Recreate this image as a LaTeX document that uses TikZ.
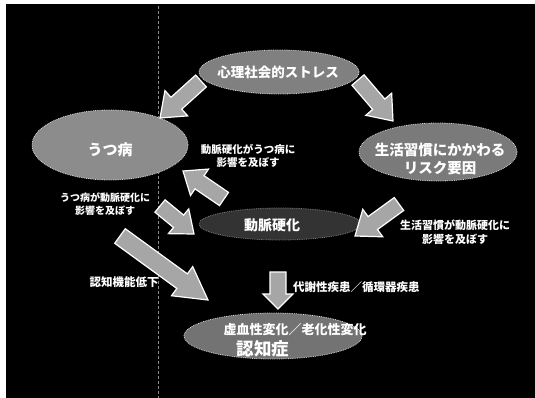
\documentclass[tikz,border=0pt]{standalone}
\usepackage{fontspec}
\setmainfont{Noto Sans CJK JP}
\usetikzlibrary{calc,shapes.geometric}
\tikzset{
  bub/.style={ellipse, fill=black!50, draw=white!85!black, densely dotted, line width=0.8pt, inner sep=0pt},
  ttl/.style={text=white, font=\bfseries\fontsize{14}{17}\selectfont, align=center, inner sep=0pt},
  lbl/.style={text=white, font=\bfseries\fontsize{10.5}{13.5}\selectfont, align=center, inner sep=0pt},
  barrowst/.style={fill=black!35, draw=white, line width=1.2pt, line join=miter},
}
\newcommand\blockarrow[5]{%
  \coordinate (tmpH) at ($(#2)!#5!(#1)$);
  \draw[barrowst] ($(#1)!#3!90:(#2)$) -- ($(tmpH)!#3!90:(#2)$) -- ($(tmpH)!#4!90:(#2)$) -- (#2)
    -- ($(tmpH)!#4!-90:(#2)$) -- ($(tmpH)!#3!-90:(#2)$) -- ($(#1)!#3!-90:(#2)$) -- cycle;
}
\begin{document}
\begin{tikzpicture}[x=1pt,y=-1pt]
\useasboundingbox (0,0) rectangle (535,398);
\fill[white] (0,0) rectangle (535,398);
\fill[black] (6,4) rectangle (535,398);
\draw[white!55!black, densely dashed, line width=0.5pt] (158,6) -- (158,398);

% ellipses
\node[bub, minimum width=160pt, minimum height=44pt] (stress) at (279,72) {};
\node[bub, fill=black!45, minimum width=156pt, minimum height=70pt] (utsu) at (110,145) {};
\node[bub, fill=black!52, minimum width=158pt, minimum height=58pt] (risk) at (438,152) {};
\node[bub, fill=black!80, draw=white!50!black, minimum width=162pt, minimum height=32pt] (kouka) at (280,224) {};
\node[bub, fill=black!55, minimum width=178pt, minimum height=46pt] (ninchi) at (273,336) {};

% titles
\node[ttl, font=\bfseries\fontsize{13.5}{16}\selectfont] (tstress) at (278,72) {心理社会的ストレス};
\node[ttl, font=\bfseries\fontsize{15}{17}\selectfont] (tutsu) at (110,150) {うつ病};
\node[ttl, font=\bfseries\fontsize{14.5}{18}\selectfont] (trisk) at (440,159) {生活習慣にかかわる\\リスク要因};
\node[ttl] (tkouka) at (272,225) {動脈硬化};
\node[ttl, font=\bfseries\fontsize{13}{15}\selectfont] (tninchi1) at (295,330) {虚血性変化／老化性変化};
\node[ttl, font=\bfseries\fontsize{17.5}{20}\selectfont] (tninchi2) at (263,349) {認知症};

% arrow end points
\coordinate (a1t) at (201,81);  \coordinate (a1h) at (160,118);
\coordinate (a2t) at (358,80);  \coordinate (a2h) at (393,121);
\coordinate (a3t) at (224,199); \coordinate (a3h) at (183,171);
\coordinate (a4t) at (160,206); \coordinate (a4h) at (194,234);
\coordinate (a5t) at (120,236); \coordinate (a5h) at (208,300);
\coordinate (a6t) at (399,204); \coordinate (a6h) at (355,236);
\coordinate (a7t) at (278,272); \coordinate (a7h) at (278,309);

\blockarrow{a1t}{a1h}{8pt}{17pt}{22pt}
\blockarrow{a2t}{a2h}{8pt}{17pt}{22pt}
\blockarrow{a3t}{a3h}{8pt}{16pt}{20pt}
\blockarrow{a4t}{a4h}{8pt}{16pt}{20pt}
\blockarrow{a5t}{a5h}{9pt}{18pt}{32pt}
\blockarrow{a6t}{a6h}{8pt}{17pt}{22pt}
\blockarrow{a7t}{a7h}{8pt}{15pt}{15pt}

% labels
\node[lbl] (l1) at (248,156) {動脈硬化がうつ病に\\影響を及ぼす};
\node[lbl, font=\bfseries\fontsize{10}{12.5}\selectfont] (l2) at (105,204) {うつ病が動脈硬化に\\影響を及ぼす};
\node[lbl, font=\bfseries\fontsize{11}{14.5}\selectfont] (l3) at (455,232) {生活習慣が動脈硬化に\\影響を及ぼす};
\node[lbl, font=\bfseries\fontsize{11.5}{14}\selectfont] (l4) at (124,282) {認知機能低下};
\node[lbl, font=\bfseries\fontsize{11.5}{14}\selectfont, anchor=west] (l5) at (293,287) {代謝性疾患／循環器疾患};
\end{tikzpicture}
\end{document}
